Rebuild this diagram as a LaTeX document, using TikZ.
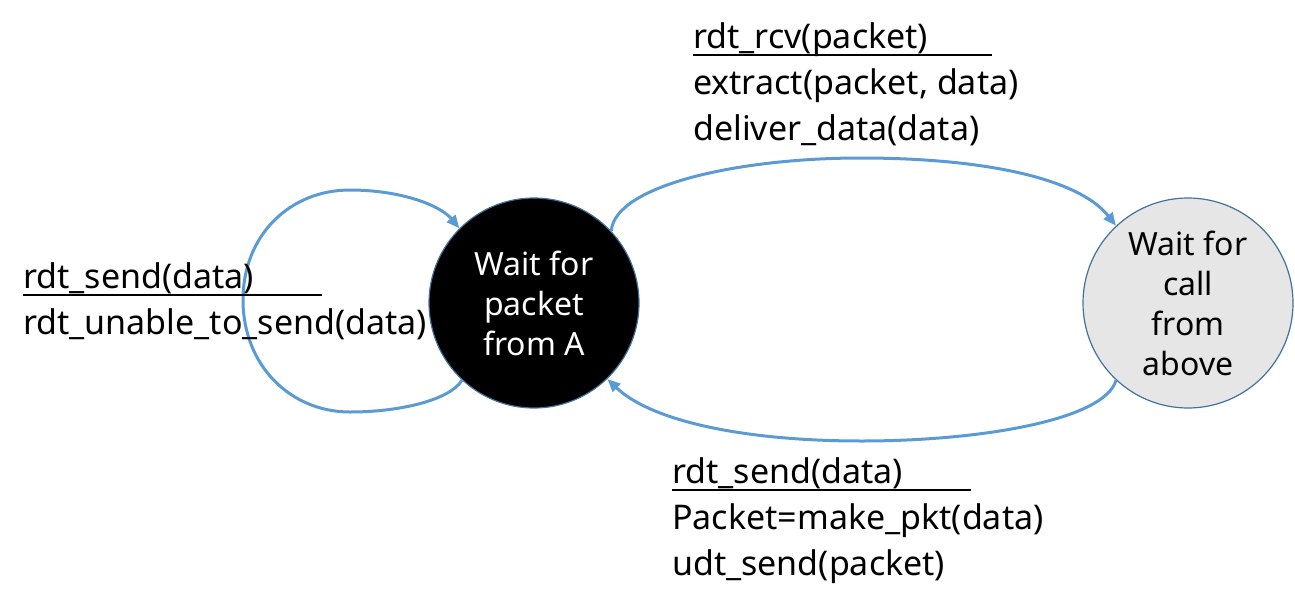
\documentclass[tikz,border=0pt]{standalone}
\usepackage{fontspec}
\setmainfont{Noto Sans}
\usetikzlibrary{arrows.meta}
\definecolor{lblue}{RGB}{91,155,213}
\definecolor{dblue}{RGB}{65,113,156}
\definecolor{lgray}{RGB}{231,230,230}
\newcommand\guardline[1]{\makebox[0pt][l]{\rule[-8pt]{299pt}{2pt}}#1}

\begin{document}
\begin{tikzpicture}[x=1pt, y=-1pt,
    state/.style={circle, draw=dblue, line width=1.2pt, minimum size=210pt, inner sep=0pt, align=center, font=\fontsize{32}{40}\selectfont},
    trans/.style={-{Triangle[length=13pt,width=11pt]}, draw=lblue, line width=3pt},
    act/.style={anchor=north west, inner sep=0pt, align=left, font=\fontsize{34}{46}\selectfont}]

    \useasboundingbox (0,0) rectangle (1295,608);

    \node[state, fill=black, text=white] (waitA) at (534,303) {Wait for\\packet\\from A};
    \node[state, fill=lgray] (waitCall) at (1188,303) {Wait for\\call\\from\\above};

    \draw[trans] (waitA.227) .. controls (450,400) and (400,412) .. (350,412)
        .. controls (290,412) and (243,365) .. (243,300)
        .. controls (243,235) and (290,190) .. (350,190)
        .. controls (400,190) and (440,205) .. (waitA.135);
    \draw[trans] (waitA.43) .. controls (615,185) and (740,158) .. (860,158)
        .. controls (990,158) and (1080,180) .. (waitCall.133);
    \draw[trans] (waitCall.227) .. controls (1105,420) and (980,441) .. (862,441)
        .. controls (740,441) and (650,420) .. (waitA.314);

    \node[act] (selfLab) at (23,262) {\guardline{rdt\_send(data)}\\rdt\_unable\_to\_send(data)};
    \node[act] (rcvLab) at (693,22) {\guardline{rdt\_rcv(packet)}\\extract(packet, data)\\deliver\_data(data)};
    \node[act] (sendLab) at (672,457) {\guardline{rdt\_send(data)}\\Packet=make\_pkt(data)\\udt\_send(packet)};

\end{tikzpicture}
\end{document}
